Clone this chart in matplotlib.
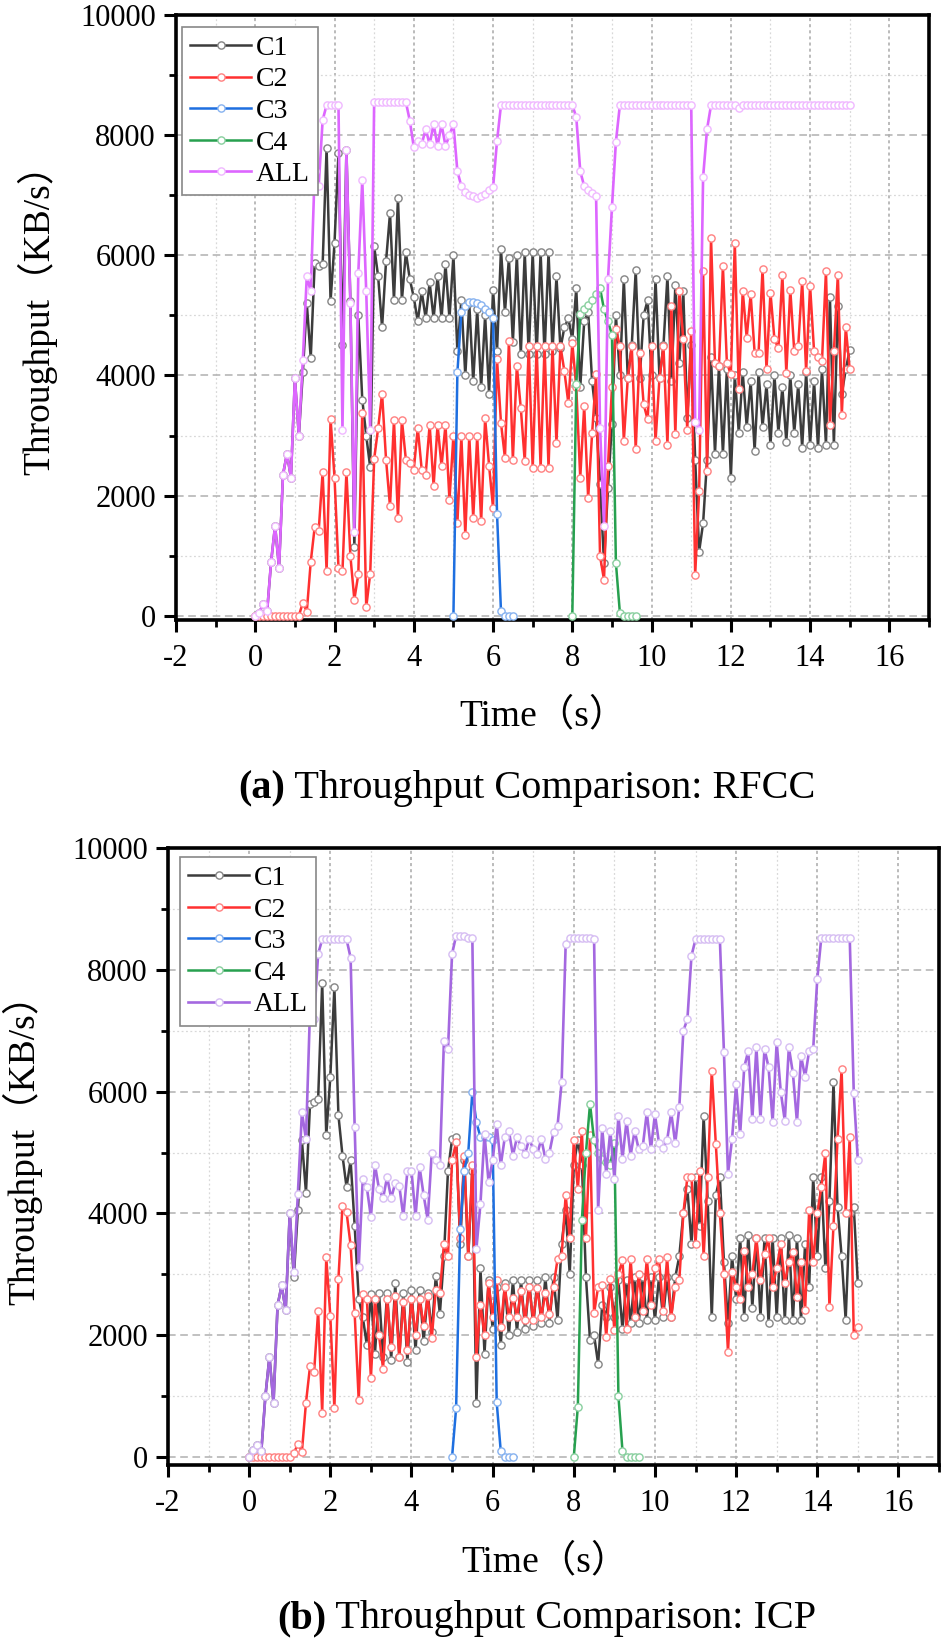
import numpy as np
import matplotlib
matplotlib.use('Agg')
import matplotlib.pyplot as plt
from matplotlib.ticker import MultipleLocator

plt.rcParams['font.family'] = ['Liberation Serif', 'Noto Sans CJK SC']
plt.rcParams['axes.unicode_minus'] = False

W, H = 944, 1639

# time grid (0.1 s steps)
t = np.round(np.arange(151) * 0.1, 1)
t_c3 = np.round(5.0 + np.arange(16) * 0.1, 1)
t_c4 = np.round(8.0 + np.arange(17) * 0.1, 1)

# ---------------- (a) RFCC ----------------
a_c1 = [0, 50, 200, 80, 900, 1500, 800, 2350, 2700, 2300,
        3950, 3000, 4050, 5200, 4290, 5880, 5820, 5850, 7790, 5240,
        6210, 7710, 4500, 7750, 5240, 1150, 5000, 3600, 3000, 2470,
        6150, 5650, 4800, 5900, 6700, 5250, 6950, 5250, 6050, 5600,
        5300, 4900, 5400, 4950, 5550, 4950, 5650, 4950, 5850, 4950,
        6000, 4400, 5250, 4000, 5200, 3900, 5100, 3800, 5000, 3700,
        5430, 4400, 6100, 5050, 5950, 4550, 6000, 4350, 6050, 4350,
        6050, 4350, 6050, 4350, 6050, 4400, 5650, 4450, 4800, 4950,
        4600, 5450, 3800, 4900, 5050, 3900, 3300, 2200, 880, 2130,
        3200, 5000, 4000, 5600, 3950, 4500, 5750, 3950, 5000, 5250,
        4000, 5600, 3950, 4500, 5650, 3900, 5500, 4200, 5400, 3300,
        4500, 2600, 1070, 1540, 2600, 4300, 2700, 4150, 2700, 4100,
        2300, 4000, 3050, 4050, 3150, 3900, 2750, 4050, 3150, 3850,
        2850, 4000, 3050, 3800, 2900, 4000, 3050, 3850, 2800, 4050,
        2850, 3900, 2800, 4100, 2850, 5300, 2850, 5150, 3700, 4100,
        4430]
a_c2 = [0, 0, 0, 0, 0, 0, 0, 0, 0, 0,
        0, 0, 220, 70, 900, 1480, 1410, 2390, 740, 3280,
        2300, 800, 740, 2400, 1000, 270, 690, 3380, 140, 700,
        2610, 3120, 3700, 2600, 1820, 3260, 1630, 3260, 2600, 2540,
        2430, 3130, 2430, 2350, 3180, 2160, 3180, 2490, 3180, 1930,
        3000, 1540, 2990, 1350, 2990, 1630, 2990, 1570, 3290, 2500,
        1790, 4270, 3210, 2630, 4570, 2600, 4160, 3460, 2570, 4490,
        2460, 4490, 2460, 4490, 2460, 4490, 2880, 4490, 4070, 3540,
        4540, 3800, 2300, 3490, 1960, 3040, 4020, 990, 600, 2490,
        3800, 4770, 4490, 2910, 3960, 4490, 2770, 4380, 3520, 3270,
        4490, 2910, 3960, 4490, 2850, 5160, 3020, 5410, 4600, 3100,
        4740, 680, 2070, 5740, 2410, 6290, 4210, 4160, 5820, 4210,
        4020, 6210, 3770, 5410, 4630, 5350, 4380, 4380, 5770, 4100,
        5380, 4600, 4450, 5680, 4040, 5430, 4400, 4490, 5570, 4070,
        5490, 4400, 4300, 4240, 5740, 3180, 4400, 5680, 3350, 4800,
        4100]
a_c3 = [0, 4050, 5050, 5150, 5230, 5230, 5200, 5180, 5100, 5050, 4960, 1700, 80, 0, 0, 0]
a_c4 = [0, 3850, 5020, 5100, 5180, 5250, 5350, 5450, 5100, 4900, 4680, 880, 50, 0, 0, 0, 0]
a_all = [0, 50, 200, 80, 900, 1500, 800, 2350, 2700, 2300,
         3950, 3000, 4250, 5650, 5400, 7400, 7150, 8250, 8500, 8500,
         8500, 8500, 3100, 7750, 5200, 1400, 5700, 7250, 5400, 3100,
         8550, 8550, 8550, 8550, 8550, 8550, 8550, 8550, 8550, 8240,
         7800, 7900, 7850, 8100, 7850, 8180, 7820, 8180, 7820, 8000,
         8180, 7400, 7150, 7050, 7000, 6980, 6960, 6980, 7020, 7080,
         7130, 7900, 8500, 8500, 8500, 8500, 8500, 8500, 8500, 8500,
         8500, 8500, 8500, 8500, 8500, 8500, 8500, 8500, 8500, 8500,
         8500, 8300, 7400, 7150, 7080, 7030, 6980, 3130, 1490, 5600,
         6800, 7890, 8500, 8500, 8500, 8500, 8500, 8500, 8500, 8500,
         8500, 8500, 8500, 8500, 8500, 8500, 8500, 8500, 8500, 8500,
         8500, 3230, 3100, 7300, 8100, 8500, 8500, 8500, 8500, 8500,
         8500, 8500, 8450, 8500, 8500, 8500, 8500, 8500, 8500, 8500,
         8500, 8500, 8500, 8500, 8500, 8500, 8500, 8500, 8500, 8500,
         8500, 8500, 8500, 8500, 8500, 8500, 8500, 8500, 8500, 8500,
         8500]

# ---------------- (b) ICP ----------------
b_c1 = [0, 110, 200, 100, 1000, 1650, 880, 2490, 2820, 2410,
        4000, 2950, 4050, 5200, 4340, 5800, 5830, 5880, 7790, 5280,
        6240, 7710, 5610, 4950, 4430, 4870, 3800, 2600, 2300, 1840,
        2680, 1700, 2700, 1650, 2700, 1600, 2850, 1650, 2700, 1560,
        2750, 1750, 2750, 1900, 2700, 2050, 2980, 2350, 3300, 4700,
        5220, 5250, 3500, 4870, 3300, 4700, 880, 3100, 1700, 2900,
        2100, 2800, 1840, 2850, 2000, 2900, 2050, 2900, 2100, 2900,
        2150, 2900, 2200, 2950, 2200, 2950, 2250, 3500, 4060, 3000,
        4800, 5200, 4800, 2950, 1920, 2000, 1530, 2500, 2300, 2800,
        2300, 2900, 2100, 2900, 2200, 2950, 2200, 2950, 2250, 2950,
        2250, 2950, 2300, 2950, 2300, 2950, 3300, 4000, 4400, 3500,
        4600, 3800, 5600, 4200, 2300, 4300, 4600, 3200, 2200, 3300,
        2600, 3600, 2300, 3650, 2450, 3600, 2300, 3600, 2200, 3600,
        2300, 3600, 2250, 3650, 2250, 3600, 2250, 3500, 2800, 4600,
        3300, 4600, 3100, 4200, 6150, 4100, 3300, 2250, 4000, 4100,
        2850]
b_c2 = [0, 0, 0, 0, 0, 0, 0, 0, 0, 0,
        0, 65, 210, 90, 890, 1490, 1390, 2400, 720, 3280,
        2320, 800, 2930, 4130, 4020, 3480, 2360, 930, 2680, 2600,
        1300, 2600, 2000, 1450, 2600, 1800, 2650, 1650, 2550, 1750,
        2600, 2000, 2600, 2150, 2650, 1950, 2750, 2700, 3500, 3300,
        4870, 5170, 3600, 4950, 3300, 4800, 1650, 2500, 2000, 2850,
        2300, 2900, 2130, 2800, 2300, 2620, 2300, 2720, 2250, 2800,
        2250, 2770, 2300, 2700, 2350, 2800, 3250, 3300, 4300, 3600,
        5200, 4400, 5360, 3590, 5280, 2360, 2800, 2820, 1970, 2930,
        2080, 3000, 3230, 2110, 3260, 2300, 3000, 2400, 3260, 2500,
        3100, 3260, 2400, 3280, 2300, 2800, 2900, 4000, 4600, 4600,
        3500, 4700, 3300, 4600, 6340, 5140, 4000, 3010, 1730, 3040,
        2800, 2600, 3390, 2800, 3010, 3590, 2900, 3340, 3590, 2800,
        3100, 3500, 2850, 3200, 3370, 2630, 3200, 2410, 4050, 3200,
        4000, 4430, 5000, 2460, 3800, 5220, 6370, 4000, 5250, 2000,
        2140]
b_c3 = [0, 800, 3750, 4700, 5000, 6000, 5500, 5250, 5250, 5250, 5200, 900, 100, 0, 0, 0]
b_c4 = [0, 830, 3900, 5000, 5800, 5200, 5000, 4900, 4850, 4800, 5150, 1000, 100, 0, 0, 0, 0]
b_all = [0, 110, 200, 100, 1000, 1650, 880, 2490, 2820, 2410,
         4000, 3040, 4320, 5660, 5220, 7350, 7190, 8260, 8500, 8500,
         8500, 8500, 8500, 8500, 8500, 8200, 5420, 3120, 4570, 4430,
         3940, 4800, 4400, 4250, 4600, 4250, 4500, 4450, 3950, 4700,
         4700, 3950, 4760, 4300, 3900, 5000, 4870, 4800, 6830, 6700,
         8260, 8560, 8550, 8550, 8530, 8530, 3420, 4160, 5310, 4510,
         4870, 5470, 4790, 5250, 5360, 4950, 5250, 5100, 4980, 5220,
         5060, 4980, 5220, 4900, 5000, 5330, 5440, 6150, 8420, 8530,
         8530, 8530, 8530, 8530, 8530, 8500, 4050, 5400, 4650, 5360,
         4570, 5600, 4900, 5520, 4950, 5360, 5050, 5100, 5660, 5050,
         5630, 5150, 5080, 5200, 5660, 5150, 5740, 7000, 7190, 8230,
         8500, 8500, 8500, 8500, 8500, 8500, 8500, 6650, 4650, 5220,
         6120, 5300, 6400, 6670, 5550, 6730, 5550, 6700, 6400, 5500,
         6810, 6000, 5520, 6730, 6300, 5500, 6590, 6240, 6670, 6700,
         7850, 8530, 8530, 8530, 8530, 8530, 8530, 8530, 8530, 5970,
         4870]

labels = ['C1', 'C2', 'C3', 'C4', 'ALL']
line_cols = ['#3c3c3c', '#ff3030', '#1e6fe0', '#27a04f']
mark_cols = ['#858585', '#ff8080', '#86b2f0', '#88cf9e']


def fx(px):
    return px / W


def fy(py):
    return 1 - py / H


def panel(ax, series, all_col, all_mk, ylo, leg_anchor):
    for (tt, vals), lab, lc, mc in zip(series[:4], labels[:4], line_cols, mark_cols):
        ax.plot(tt, vals, color=lc, lw=1.8, marker='o', ms=5.2, mfc='white',
                mec=mc, mew=1.0, label=lab, zorder=3)
    tt, vals = series[4]
    ax.plot(tt, vals, color=all_col, lw=1.9, marker='o', ms=5.2, mfc='white',
            mec=all_mk, mew=1.0, label='ALL', zorder=4)

    ax.set_xlim(-2, 17)
    ax.set_ylim(ylo, 10000)
    ax.xaxis.set_major_locator(MultipleLocator(2))
    ax.xaxis.set_minor_locator(MultipleLocator(1))
    ax.yaxis.set_major_locator(MultipleLocator(2000))
    ax.yaxis.set_minor_locator(MultipleLocator(1000))
    ax.tick_params(which='major', direction='out', length=8.5, width=2.2,
                   labelsize=22, pad=6)
    ax.tick_params(which='minor', direction='out', length=5, width=2.0)
    ax.tick_params(axis='x', which='major', pad=9)
    for s in ax.spines.values():
        s.set_linewidth(2.6)

    ax.set_axisbelow(True)
    ax.grid(which='major', axis='y', ls=(0, (5, 3)), color='#b0b0b0', lw=1.1)
    ax.grid(which='major', axis='x', ls=(0, (2, 2)), color='#a8a8a8', lw=1.1)
    ax.grid(which='minor', ls=(0, (1.5, 2)), color='#d8d8d8', lw=0.9)

    leg = ax.legend(loc='upper left', bbox_to_anchor=leg_anchor, borderaxespad=0,
                    fontsize=20, numpoints=1, handlelength=2.2, handletextpad=0.15,
                    labelspacing=0.22, borderpad=0.3, fancybox=False, framealpha=1)
    leg.get_frame().set_edgecolor('#888888')
    leg.get_frame().set_linewidth(1.2)


fig = plt.figure(figsize=(W / 100, H / 100), dpi=100)

ax1 = fig.add_axes([fx(176), fy(620), fx(929) - fx(176), fy(15) - fy(620)])
panel(ax1, [(t, a_c1), (t, a_c2), (t_c3, a_c3), (t_c4, a_c4), (t, a_all)],
      '#dd66ff', '#f0b8ff', -70, (0.008, 0.980))

ax2 = fig.add_axes([fx(168), fy(1465), fx(939) - fx(168), fy(848) - fy(1465)])
panel(ax2, [(t, b_c1), (t, b_c2), (t_c3, b_c3), (t_c4, b_c4), (t, b_all)],
      '#a468e0', '#d6bdf3', -130, (0.0156, 0.985))

# axis titles
fig.text(fx(37), fy(310), 'Throughput（KB/s）', rotation=90, ha='center', va='center', fontsize=27)
fig.text(fx(22), fy(1140), 'Throughput（KB/s）', rotation=90, ha='center', va='center', fontsize=27)
fig.text(fx(543), fy(716), 'Time（s）', ha='center', va='center', fontsize=27)
fig.text(fx(545), fy(1562), 'Time（s）', ha='center', va='center', fontsize=27)

# captions: bold tag followed by regular text
fig.canvas.draw()
renderer = fig.canvas.get_renderer()
for tag, rest, x0, base in [('(a)', ' Throughput Comparison: RFCC', 238, 798),
                            ('(b)', ' Throughput Comparison: ICP', 277, 1628)]:
    bt = fig.text(fx(x0), fy(base), tag, ha='left', va='baseline', fontsize=29, fontweight='bold')
    bb = bt.get_window_extent(renderer)
    fig.text(bb.x1 / W, fy(base), rest, ha='left', va='baseline', fontsize=29)

fig.savefig('out.png', dpi=100)
